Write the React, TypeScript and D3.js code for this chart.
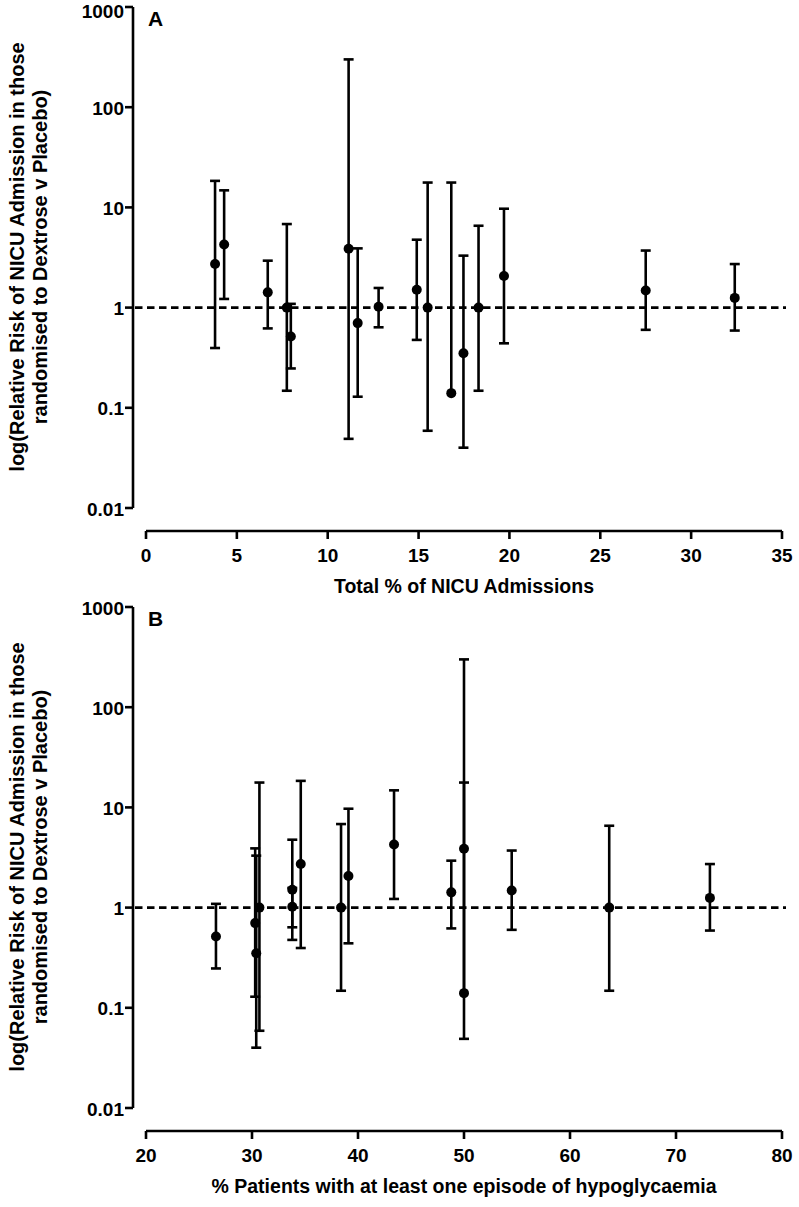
import React from "react";
import * as d3 from "d3";

const nicuPct = [3.8, 4.3, 6.7, 7.75, 7.97, 11.15, 11.65, 12.8, 14.9, 15.5, 16.8, 17.47, 18.3, 19.7, 27.5, 32.4];
const hypoPct = [34.6, 43.4, 48.8, 38.4, 26.6, 50.0, 30.3, 33.8, 33.8, 30.7, 50.0, 30.4, 63.7, 39.1, 54.5, 73.2];
const rr = [2.72, 4.27, 1.42, 1.0, 0.515, 3.86, 0.7, 1.02, 1.51, 1.0, 0.14, 0.35, 1.0, 2.07, 1.48, 1.25];
const rrLow: (number | null)[] = [0.395, 1.22, 0.62, 0.148, 0.247, 0.049, 0.129, 0.636, 0.476, 0.059, null, 0.04, 0.148, 0.44, 0.6, 0.59];
const rrHigh = [18.4, 14.8, 2.94, 6.82, 1.09, 300, 3.9, 1.57, 4.76, 17.7, 17.7, 3.3, 6.56, 9.7, 3.71, 2.72];

const yTickValues = [0.01, 0.1, 1, 10, 100, 1000];
const yTickLabels = ["0.01", "0.1", "1", "10", "100", "1000"];
const xTicksA = [0, 5, 10, 15, 20, 25, 30, 35];
const xTicksB = [20, 30, 40, 50, 60, 70, 80];

const yTitle1 = "log(Relative Risk of NICU Admission in those";
const yTitle2 = "randomised to Dextrose v Placebo)";

const FONT = "'Liberation Sans', Arial, Helvetica, sans-serif";

type PanelProps = {
  letter: string;
  xs: number[];
  xDomain: [number, number];
  xTicks: number[];
  xTitle: string;
  top: number;
};

function Panel({ letter, xs, xDomain, xTicks, xTitle, top }: PanelProps) {
  const axisX = 133;
  const y = d3.scaleLog().domain([0.01, 1000]).range([top + 501, top]);
  const x = d3.scaleLinear().domain(xDomain).range([146, 782]);
  const xAxisY = top + 524;
  const capW = 5;
  const sw = 2.6;
  return (
    <g>
      {/* y title */}
      <g transform={`translate(${24},${top + 250}) rotate(-90)`}>
        <text textAnchor="middle" fontSize={20} fontWeight="bold" fontFamily={FONT}>{yTitle1}</text>
      </g>
      <g transform={`translate(${47},${top + 250}) rotate(-90)`}>
        <text textAnchor="middle" fontSize={20} fontWeight="bold" fontFamily={FONT}>{yTitle2}</text>
      </g>
      {/* y axis */}
      <line x1={axisX} x2={axisX} y1={y(1000)} y2={y(0.01)} stroke="#000" strokeWidth={sw} />
      {yTickValues.map((v, i) => (
        <g key={v}>
          <line x1={axisX - 8} x2={axisX} y1={y(v)} y2={y(v)} stroke="#000" strokeWidth={sw} />
          <text x={axisX - 9} y={Math.max(y(v) + 7.5, 18)} textAnchor="end" fontSize={19} fontWeight="bold" fontFamily={FONT}>
            {yTickLabels[i]}
          </text>
        </g>
      ))}
      {/* x axis */}
      <line x1={x(xDomain[0])} x2={x(xDomain[1])} y1={xAxisY} y2={xAxisY} stroke="#000" strokeWidth={sw} />
      {xTicks.map((t) => (
        <g key={t}>
          <line x1={x(t)} x2={x(t)} y1={xAxisY} y2={xAxisY + 8} stroke="#000" strokeWidth={sw} />
          <text x={x(t)} y={xAxisY + 31} textAnchor="middle" fontSize={19} fontWeight="bold" fontFamily={FONT}>
            {t}
          </text>
        </g>
      ))}
      <text x={(x(xDomain[0]) + x(xDomain[1])) / 2} y={xAxisY + 62} textAnchor="middle" fontSize={19.5} fontWeight="bold" fontFamily={FONT}>
        {xTitle}
      </text>
      {/* panel letter */}
      <text x={148} y={top + 19} fontSize={21} fontWeight="bold" fontFamily={FONT}>{letter}</text>
      {/* reference line */}
      <line x1={axisX + 2} x2={786} y1={y(1)} y2={y(1)} stroke="#000" strokeWidth={2.6} strokeDasharray="7.5,4.5" />
      {/* error bars */}
      {xs.map((xv, i) => {
        const cx = x(xv);
        const lo = rrLow[i];
        const y0 = lo == null ? y(rr[i]) : y(lo);
        return (
          <g key={i}>
            <line x1={cx} x2={cx} y1={y(rrHigh[i])} y2={y0} stroke="#000" strokeWidth={sw} />
            <line x1={cx - capW} x2={cx + capW} y1={y(rrHigh[i])} y2={y(rrHigh[i])} stroke="#000" strokeWidth={sw} />
            {lo != null && (
              <line x1={cx - capW} x2={cx + capW} y1={y(lo)} y2={y(lo)} stroke="#000" strokeWidth={sw} />
            )}
            <circle cx={cx} cy={y(rr[i])} r={5} fill="#000" />
          </g>
        );
      })}
    </g>
  );
}

export default function App() {
  return (
    <div style={{ position: "absolute", left: 0, top: 0 }}>
      <svg width={799} height={1207} style={{ display: "block", background: "#fff" }}>
        <rect width={799} height={1207} fill="#fff" />
        <Panel letter="A" xs={nicuPct} xDomain={[0, 35]} xTicks={xTicksA} xTitle="Total % of NICU Admissions" top={7} />
        <Panel letter="B" xs={hypoPct} xDomain={[20, 80]} xTicks={xTicksB} xTitle="% Patients with at least one episode of hypoglycaemia" top={607} />
      </svg>
    </div>
  );
}
